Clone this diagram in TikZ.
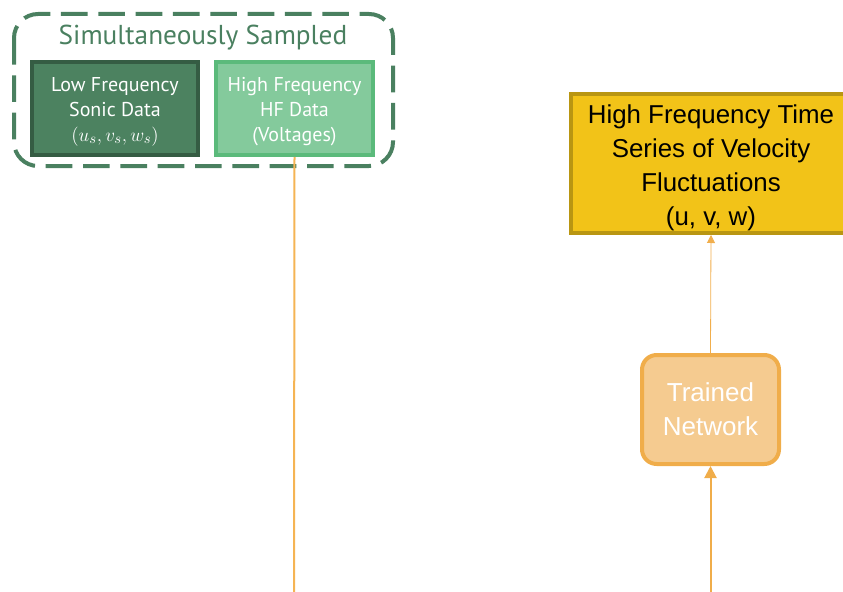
\documentclass[tikz,border=0pt]{standalone}
\usepackage{fontspec}
\setmainfont{PT Sans}
\newfontfamily\arialfont{Liberation Sans}
\usepackage{xcolor}
\usetikzlibrary{positioning,calc,arrows.meta}

\definecolor{framegreen}{HTML}{4A8060}
\definecolor{darkfill}{HTML}{4C8260}
\definecolor{darkedge}{HTML}{355C43}
\definecolor{lightfill}{HTML}{84CA9C}
\definecolor{lightedge}{HTML}{5BBA7B}
\definecolor{yellowfill}{HTML}{F2C318}
\definecolor{yellowedge}{HTML}{B99612}
\definecolor{netfill}{HTML}{F5CB90}
\definecolor{netedge}{HTML}{F0AD4A}
\definecolor{wire}{HTML}{F5B454}

\begin{document}
\begin{tikzpicture}[
    x=0.75pt, y=-0.75pt,
    frame/.style={draw=framegreen, line width=3pt, rounded corners=18pt, dash pattern=on 20pt off 8pt},
    databox/.style={rectangle, line width=3pt, minimum width=124.5pt, minimum height=69.75pt, inner sep=0pt},
    datatext/.style={text=white, align=center, yshift=-2.25pt, font=\fontsize{15}{18.75}\selectfont},
    series/.style={rectangle, draw=yellowedge, fill=yellowfill, line width=3pt, minimum width=210pt, minimum height=104.25pt, inner sep=0pt},
    seriestext/.style={align=center, yshift=-3pt, font=\arialfont\fontsize{19.4}{25.5}\selectfont},
    net/.style={rectangle, rounded corners=11pt, draw=netedge, fill=netfill, line width=3pt, text=white, align=center, font=\arialfont\fontsize{19.5}{25.5}\selectfont, minimum width=102.75pt, minimum height=81.75pt, inner sep=0pt}
]
    \clip (0,0) rectangle (843,592);
    \useasboundingbox (0,0) rectangle (843,592);

    % Sampled group
    \draw [frame] (14,14) rectangle (393,166);
    \node [text=framegreen, font=\fontsize{20.5}{22}\selectfont] (title) at (203,38) {Simultaneously Sampled};
    \node [databox, draw=darkedge, fill=darkfill,
           label={[datatext]center:{Low Frequency\\Sonic Data\\$(u_s,v_s,w_s)$}}] (lowbox) at (115,108.5) {};
    \node [databox, draw=lightedge, fill=lightfill, minimum width=117.75pt,
           label={[datatext]center:{High Frequency\\HF Data\\(Voltages)}}] (hfbox) at (294.5,108.5) {};

    % Output and network
    \node [series, label={[seriestext]center:{High Frequency Time\\Series of Velocity\\Fluctuations\\(u, v, w)}}] (output) at (711,163.5) {};
    \node [net] (network) at (710.5,409.5) {Trained\\Network};

    % Connectors
    \coordinate (hfend) at (294,600);
    \coordinate (netin) at (710.5,600);
    \draw [wire, line width=1.5pt] (hfbox.south) -- (hfend);
    \draw [netedge, line width=1.5pt, -{Triangle[width=9pt,length=9pt]}] (netin) -- (network.south);
    \draw [netedge!80!wire, line width=0.6pt, -{Triangle[width=6pt,length=6pt]}] (network.north) -- (output.south);
\end{tikzpicture}
\end{document}
